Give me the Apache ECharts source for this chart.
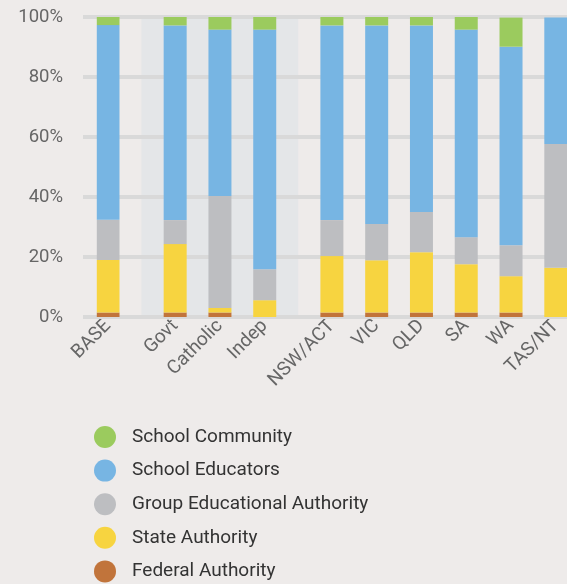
<!DOCTYPE html>
<html>
<head>
<meta charset="utf-8">
<script src="https://cdn.jsdelivr.net/npm/echarts@6/dist/echarts.min.js"></script>
<style>
html,body{margin:0;padding:0;background:#eeebea;}
#chart{width:567px;height:584px;}
</style>
</head>
<body>
<div id="chart"></div>
<script>
// ---- data ----
const categories = ['BASE','Govt','Catholic','Indep','NSW/ACT','VIC','QLD','SA','WA','TAS/NT'];
const federal    = [1.5, 1.5, 1.5, 0,    1.5, 1.5, 1.5, 1.5, 1.5, 0];
const state      = [17.5, 22.8, 1.5, 5.6, 18.8, 17.4, 20.1, 16.1, 12.1, 16.4];
const groupAuth  = [13.4, 8.0, 37.3, 10.3, 12.0, 12.1, 13.4, 9.0, 10.3, 41.3];
const educators  = [64.9, 64.9, 55.5, 79.9, 64.9, 66.2, 62.2, 69.2, 66.2, 42.1];
const community  = [2.7, 2.8, 4.2, 4.2, 2.8, 2.8, 2.8, 4.2, 9.7, 0];
const yTicks = [0, 20, 40, 60, 80, 100];

// ---- layout ----
// slot index (in half-category steps) of each category; gaps separate the groups
const slotIdx = [0, 3, 5, 7, 10, 12, 14, 16, 18, 20];
const nSlots = 21;
const slotW = 22.4;
const colors = {
  community: '#9bcb5e', educators: '#77b5e3', group: '#bdbec1',
  state: '#f7d440', federal: '#c1743b'
};
const font = 'Roboto, "Liberation Sans", sans-serif';

// category axis with blank spacer slots
const slotLabels = new Array(nSlots).fill('');
slotIdx.forEach((s, i) => { slotLabels[s] = categories[i]; });
function spread(vals) {
  const arr = new Array(nSlots).fill('-');
  slotIdx.forEach((s, i) => { arr[s] = vals[i]; });
  return arr;
}
function mk(name, vals, color) {
  return {
    name, type: 'bar', stack: 'all', barWidth: 23, z: 5,
    xAxisIndex: 1, yAxisIndex: 1,
    itemStyle: { color },
    data: spread(vals)
  };
}

const chart = echarts.init(document.getElementById('chart'), null, { renderer: 'canvas' });
chart.setOption({
  backgroundColor: '#eeebea',
  animation: false,
  grid: [
    { left: 83, right: 0, top: 17, height: 300 },
    { left: 108 - slotW / 2, width: slotW * nSlots, top: 17, height: 300 }
  ],
  xAxis: [
    {
      gridIndex: 0, type: 'value', min: -0.555, max: 10.25,
      axisLine: { show: false }, axisTick: { show: false },
      splitLine: { show: false }, axisLabel: { show: false }
    },
    {
      gridIndex: 1, type: 'category', data: slotLabels,
      axisLine: { show: false }, axisTick: { show: false },
      axisLabel: {
        interval: 0, rotate: 45, margin: 6,
        fontFamily: font, fontSize: 19, color: '#666'
      }
    }
  ],
  yAxis: [
    {
      gridIndex: 0, type: 'value', min: 0, max: 100, interval: 20, z: 3,
      axisLine: { show: false }, axisTick: { show: false },
      splitLine: { lineStyle: { color: '#d9d9d9', width: 4 } },
      axisLabel: {
        margin: 20, fontFamily: font, fontSize: 18.5, color: '#666',
        formatter: v => yTicks.includes(v) ? v + '%' : ''
      }
    },
    {
      gridIndex: 1, type: 'value', min: 0, max: 100, show: false
    }
  ],
  legend: {
    orient: 'vertical', left: 94, top: 426, padding: 0,
    itemWidth: 22, itemHeight: 22, itemGap: 11.6, icon: 'circle',
    textStyle: { fontFamily: font, fontSize: 19, color: '#333', padding: [0, 0, 0, 11] },
    data: ['School Community', 'School Educators', 'Group Educational Authority', 'State Authority', 'Federal Authority']
  },
  series: [
    {
      type: 'line', data: [], z: -1, silent: true, xAxisIndex: 0, yAxisIndex: 0,
      markArea: {
        silent: true,
        itemStyle: { color: '#e4e6e8' },
        data: [[{ xAxis: 0.75 }, { xAxis: 4.25 }]]
      }
    },
    mk('Federal Authority', federal, colors.federal),
    mk('State Authority', state, colors.state),
    mk('Group Educational Authority', groupAuth, colors.group),
    mk('School Educators', educators, colors.educators),
    mk('School Community', community, colors.community)
  ]
});
</script>
</body>
</html>
